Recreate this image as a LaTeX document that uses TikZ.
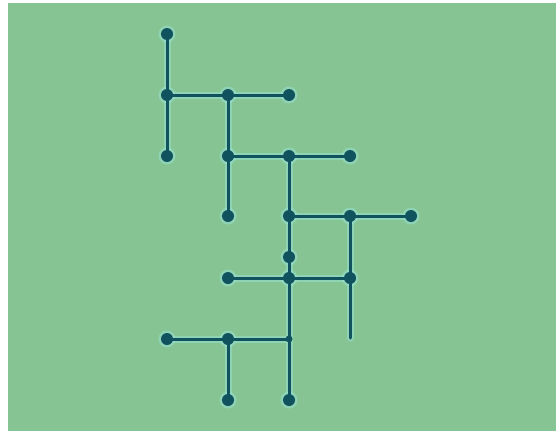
\documentclass[tikz,border=0pt]{standalone}
\usetikzlibrary{backgrounds}
\definecolor{bg}{RGB}{134,196,148}
\definecolor{ink}{RGB}{16,82,94}
\definecolor{glow}{RGB}{150,225,205}
\tikzset{
  dot/.style={circle, fill=ink, inner sep=0pt, minimum size=12pt},
  smalldot/.style={circle, fill=ink, inner sep=0pt, minimum size=7pt},
  wire/.style={draw=ink, line width=3pt, line cap=round},
  halo/.style={draw=glow, line width=7pt, line cap=round, opacity=0.55}
}
\begin{document}
\begin{tikzpicture}[x=1pt,y=-1pt]
\useasboundingbox (0,0) rectangle (556,434);
% nodes
\node[dot] (a1) at (167,34) {};
\node[dot] (a2) at (167,95) {};
\node[dot] (a3) at (228,95) {};
\node[dot] (a4) at (289,95) {};
\node[dot] (a5) at (167,156) {};
\node[dot] (b1) at (228,156) {};
\node[dot] (b2) at (289,156) {};
\node[dot] (b3) at (350,156) {};
\node[dot] (b4) at (228,216) {};
\node[dot] (c1) at (289,216) {};
\node[dot] (c2) at (350,216) {};
\node[dot] (c3) at (411,216) {};
\node[dot] (c4) at (289,257) {};
\node[dot] (d1) at (228,278) {};
\node[dot] (d2) at (289,278) {};
\node[dot] (d3) at (350,278) {};
\coordinate (d4) at (350,338);
\node[dot] (e1) at (167,339) {};
\node[dot] (e2) at (228,339) {};
\node[smalldot] (e3) at (289,339) {};
\node[dot] (e4) at (228,400) {};
\node[dot] (e5) at (289,400) {};
\begin{pgfonlayer}{background}
\fill[bg] (8,3) rectangle (556,431);
\foreach \p/\q in {a1/a5, a2/a4, a3/b4, b1/b3, b2/c4, c4/d2, c1/c3, c2/d4, d1/d3, e1/e3, e2/e4, d2/e5}
  \draw[halo] (\p.center) -- (\q.center);
\foreach \n in {a1,a2,a3,a4,a5,b1,b2,b3,b4,c1,c2,c3,c4,d1,d2,d3,e1,e2,e4,e5}
  \fill[glow, opacity=0.55] (\n.center) circle (8.5pt);
\foreach \p/\q in {a1/a5, a2/a4, a3/b4, b1/b3, b2/c4, c4/d2, c1/c3, c2/d4, d1/d3, e1/e3, e2/e4, d2/e5}
  \draw[wire] (\p.center) -- (\q.center);
\end{pgfonlayer}
\end{tikzpicture}
\end{document}
